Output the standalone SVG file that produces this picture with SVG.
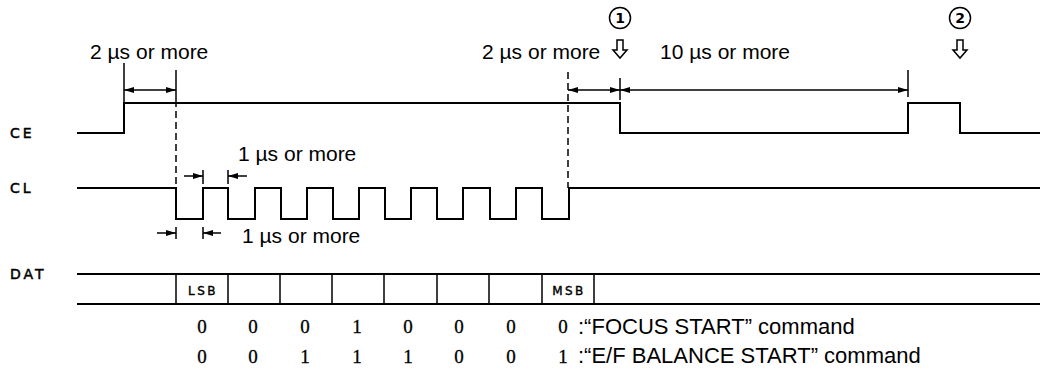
<svg xmlns="http://www.w3.org/2000/svg" width="1043" height="371" viewBox="0 0 1043 371">
<style>
.sig{fill:none;stroke:#000;stroke-width:2;stroke-linejoin:miter}
.dim{fill:none;stroke:#000;stroke-width:1.5}
.dash{fill:none;stroke:#000;stroke-width:1.5;stroke-dasharray:7,4}
.lbl{font-family:"Liberation Sans",Arial,sans-serif;font-size:21px;fill:#000}
.cmd{font-family:"Liberation Sans",Arial,sans-serif;font-size:22px;fill:#000}
.bit{font-family:"Liberation Serif","Times New Roman",serif;font-size:19px;fill:#000;stroke:#000;stroke-width:0.3;text-anchor:middle}
.plot{font-family:"DejaVu Sans",sans-serif;font-size:14px;letter-spacing:3px;fill:#000;stroke:#000;stroke-width:0.5}
.cell{font-family:"DejaVu Sans",sans-serif;font-size:12px;letter-spacing:2.5px;fill:#000;stroke:#000;stroke-width:0.4;text-anchor:middle}
.circ{fill:#fff;stroke:#000;stroke-width:1.5}
.num{font-family:"DejaVu Sans",sans-serif;font-weight:bold;font-size:14px;fill:#000;text-anchor:middle}
.hollow{fill:#fff;stroke:#000;stroke-width:1.5;stroke-linejoin:miter}
</style>
<defs>
<marker id="ah" viewBox="0 0 10 6" markerUnits="userSpaceOnUse" markerWidth="10" markerHeight="6" refX="10" refY="3" orient="auto-start-reverse">
<path d="M0,0 L10,3 L0,6 z" fill="#000"/>
</marker>
</defs>
<g id="signal-labels">
<text class="plot" x="10" y="138">CE</text>
<text class="plot" x="10" y="193">CL</text>
<text class="plot" x="10" y="279">DAT</text>
</g>
<g id="CE">
<path class="sig" d="M77 133 H124 V103 H620 V133 H908 V103 H960 V133 H1040"/>
</g>
<g id="CL">
<path class="sig" d="M77 188 H176 V219 H203 V188 H228 V219 H255 V188 H281 V219 H307 V188 H333 V219 H359 V188 H385 V219 H411 V188 H437 V219 H463 V188 H490 V219 H516 V188 H542 V219 H569 V188 H1040"/>
</g>
<g id="DAT">
<path class="sig" d="M77 274 H1040 M77 304 H1040"/>
<path class="dim" d="M176 274 V304 M228 274 V304 M280 274 V304 M332 274 V304 M384 274 V304 M437 274 V304 M489 274 V304 M542 274 V304 M594 274 V304"/>
<text class="cell" x="203" y="295">LSB</text>
<text class="cell" x="569" y="295">MSB</text>
</g>
<g id="connectors">
<path class="dim" d="M124 63 V102 M176 70 V100 M620 78 V100 M908 70 V97"/>
<path class="dash" d="M176 100 V188 M568 72 V188"/>
<line class="dim" x1="124" y1="90" x2="176" y2="90" marker-start="url(#ah)" marker-end="url(#ah)"/>
<line class="dim" x1="568" y1="90" x2="620" y2="90" marker-start="url(#ah)" marker-end="url(#ah)"/>
<line class="dim" x1="620" y1="90" x2="908" y2="90" marker-start="url(#ah)" marker-end="url(#ah)"/>
<path class="dim" d="M203 170 V184 M228 170 V184 M176 227 V239 M203 227 V239"/>
<line class="dim" x1="184" y1="176" x2="203" y2="176" marker-end="url(#ah)"/>
<line class="dim" x1="247" y1="176" x2="228" y2="176" marker-end="url(#ah)"/>
<line class="dim" x1="157" y1="233" x2="176" y2="233" marker-end="url(#ah)"/>
<line class="dim" x1="221" y1="233" x2="203" y2="233" marker-end="url(#ah)"/>
</g>
<g id="marker-1">
<circle class="circ" cx="620" cy="18" r="10.5"/>
<text class="num" x="620" y="23">1</text>
<polygon class="hollow" points="617,40 623,40 623,50 627,50 620,58 613,50 617,50"/>
</g>
<g id="marker-2">
<circle class="circ" cx="960" cy="18" r="10.5"/>
<text class="num" x="960" y="23">2</text>
<polygon class="hollow" points="957,40 963,40 963,50 967,50 960,58 953,50 957,50"/>
</g>
<g id="timing-labels">
<text class="lbl" x="90" y="59">2 µs or more</text>
<text class="lbl" x="482" y="59">2 µs or more</text>
<text class="lbl" x="660" y="59">10 µs or more</text>
<text class="lbl" x="238" y="161">1 µs or more</text>
<text class="lbl" x="242" y="243">1 µs or more</text>
</g>
<g id="bits">
<text class="bit" x="202" y="333">0</text>
<text class="bit" x="253" y="333">0</text>
<text class="bit" x="305" y="333">0</text>
<text class="bit" x="357" y="333">1</text>
<text class="bit" x="408" y="333">0</text>
<text class="bit" x="459" y="333">0</text>
<text class="bit" x="511" y="333">0</text>
<text class="bit" x="563" y="333">0</text>
<text class="cmd" x="578" y="334">:“FOCUS START” command</text>
<text class="bit" x="202" y="363">0</text>
<text class="bit" x="253" y="363">0</text>
<text class="bit" x="305" y="363">1</text>
<text class="bit" x="357" y="363">1</text>
<text class="bit" x="408" y="363">1</text>
<text class="bit" x="459" y="363">0</text>
<text class="bit" x="511" y="363">0</text>
<text class="bit" x="563" y="363">1</text>
<text class="cmd" x="578" y="363">:“E/F BALANCE START” command</text>
</g>
</svg>
